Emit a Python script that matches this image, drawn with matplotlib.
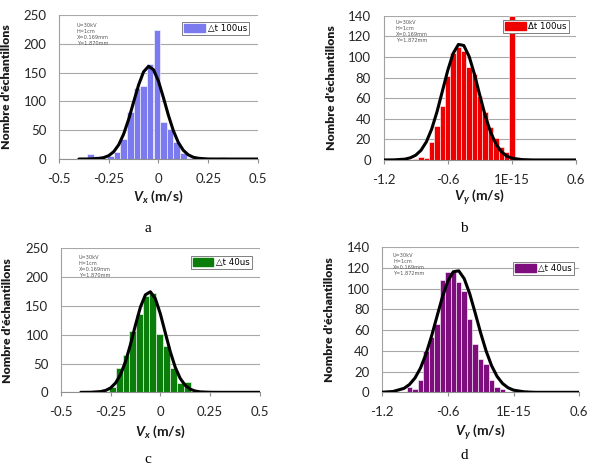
import matplotlib
matplotlib.use("Agg")
import matplotlib.pyplot as plt
from matplotlib.patches import Patch

plt.rcParams['font.family'] = ['Lato', 'DejaVu Sans']
plt.rcParams['mathtext.fontset'] = 'custom'
plt.rcParams['mathtext.it'] = 'Lato:italic:bold'
plt.rcParams['mathtext.rm'] = 'Lato:bold'
plt.rcParams['mathtext.bf'] = 'Lato:bold'

# ---------------- data ----------------
# panel a : Vx, dt 100us
a_centers = [-0.342, -0.308, -0.242, -0.208, -0.175, -0.142, -0.108, -0.075, -0.042, -0.008,
             0.025, 0.058, 0.092, 0.125, 0.158, 0.192, 0.325, 0.358]
a_counts = [8, 6, 6, 12, 34, 81, 124, 126, 164, 224, 64, 52, 29, 10, 1, 5, 3, 2]
a_fit_x = [-0.40, -0.35, -0.30, -0.275, -0.25, -0.225, -0.20, -0.175, -0.15, -0.125, -0.10, -0.075,
           -0.05, -0.025, 0.0, 0.025, 0.05, 0.075, 0.10, 0.125, 0.15, 0.175, 0.20, 0.25, 0.30, 0.40, 0.50]
a_fit_y = [0.0, 0.1, 1.0, 2.5, 5.9, 12.7, 24.7, 43.4, 68.8, 98.9, 128.5, 151.2,
           160.9, 154.9, 134.9, 106.3, 75.8, 48.9, 28.5, 15.1, 7.2, 3.1, 1.2, 0.1, 0.0, 0.0, 0.0]

# panel b : Vy, dt 100us
b_centers = [-0.9, -0.85, -0.8, -0.75, -0.7, -0.65, -0.6, -0.55, -0.5, -0.45, -0.4, -0.35,
             -0.3, -0.25, -0.2, -0.15, -0.1, -0.05, 0.0, 0.05, 0.1, 0.15]
b_counts = [1, 3, 2, 17, 33, 52, 82, 104, 110, 106, 90, 83, 62, 47, 32, 21, 13, 8, 140, 2, 2, 1]
b_fit_x = [-1.2, -1.1, -1.0, -0.95, -0.9, -0.85, -0.8, -0.75, -0.7, -0.65, -0.6, -0.55, -0.5,
           -0.45, -0.4, -0.35, -0.3, -0.25, -0.2, -0.15, -0.1, -0.05, 0.0, 0.1, 0.2, 0.4, 0.6]
b_fit_y = [0.0, 0.1, 0.8, 2.1, 4.6, 9.4, 17.6, 30.1, 47.0, 66.9, 87.0, 103.4, 112.2,
           111.2, 100.6, 83.2, 62.8, 43.3, 27.2, 15.7, 8.2, 3.9, 1.7, 0.3, 0.0, 0.0, 0.0]

# panel c : Vx, dt 40us
c_centers = [-0.240, -0.206, -0.173, -0.139, -0.105, -0.072, -0.038, -0.004, 0.032, 0.067, 0.102, 0.136]
c_counts = [10, 42, 64, 107, 136, 168, 172, 101, 81, 42, 16, 18]
c_fit_x = a_fit_x
c_fit_y = [0.0, 0.1, 1.3, 3.3, 7.7, 16.3, 31.1, 53.6, 83.3, 117.0, 148.2, 169.3,
           174.6, 162.5, 136.5, 103.4, 70.7, 43.6, 24.3, 12.2, 5.5, 2.3, 0.8, 0.1, 0.0, 0.0, 0.0]

# panel d : Vy, dt 40us
d_centers = [-0.95, -0.9, -0.85, -0.8, -0.75, -0.7, -0.65, -0.6, -0.55, -0.5, -0.45, -0.4,
             -0.35, -0.3, -0.25, -0.2, -0.15, -0.1, 0.1, 0.25]
d_counts = [5, 3, 12, 40, 53, 66, 108, 116, 116, 107, 98, 71, 47, 32, 27, 12, 5, 3, 2, 1]
d_fit_x = b_fit_x
d_fit_y = [0.1, 0.8, 3.8, 7.5, 13.7, 23.2, 36.6, 53.6, 72.7, 91.7, 107.3, 116.4, 117.3,
           109.7, 95.2, 76.6, 57.3, 39.8, 25.6, 15.3, 8.5, 4.4, 2.1, 0.4, 0.0, 0.0, 0.0]

vx_ticks = [-0.5, -0.25, 0, 0.25, 0.5]
vx_ticklabels = ['-0.5', '-0.25', '0', '0.25', '0.5']
vy_ticks = [-1.2, -0.6, 0, 0.6]
vy_ticklabels = ['-1.2', '-0.6', '1E-15', '0.6']
vx_yticks = [0, 50, 100, 150, 200, 250]
vy_yticks = [0, 20, 40, 60, 80, 100, 120, 140]

params_a = "U=30kV\nH=1cm\nX=0.169mm\nY=1.870mm"
params_b = "U=30kV\nH=1cm\nX=0.169mm\nY=1.872mm"

# ---------------- figure ----------------
fig = plt.figure(figsize=(5.92, 4.65), dpi=100)

panels = [
    dict(pos=[0.0997, 0.658, 0.336, 0.310], centers=a_centers, counts=a_counts, width=1/30,
         fx=a_fit_x, fy=a_fit_y, color='#7B7BEF', leg='\u25B3t 100us', xl=(-0.5, 0.5), yl=(0, 250),
         xt=vx_ticks, xtl=vx_ticklabels, yt=vx_yticks, xlabel=r'$V_x$ (m/s)', params=params_a,
         ylab=(-0.236, 0.5), xlab=(0.5, -0.262), legpos=(0.955, 0.951), parpos=(0.09, 0.945),
         letter='a', letpos=(148, 228)),
    dict(pos=[0.648, 0.656, 0.325, 0.310], centers=b_centers, counts=b_counts, width=0.05,
         fx=b_fit_x, fy=b_fit_y, color='#EE0000', leg='\u0394t 100us', xl=(-1.2, 0.6), yl=(0, 140),
         xt=vy_ticks, xtl=vy_ticklabels, yt=vy_yticks, xlabel=r'$V_y$ (m/s)', params=params_b,
         ylab=(-0.240, 0.5), xlab=(0.5, -0.256), legpos=(0.964, 0.970), parpos=(0.064, 0.97),
         letter='b', letpos=(464, 228)),
    dict(pos=[0.103, 0.1563, 0.3356, 0.3097], centers=c_centers, counts=c_counts, width=1/30,
         fx=c_fit_x, fy=c_fit_y, color='#0A7D0A', leg='\u25B3t 40us', xl=(-0.5, 0.5), yl=(0, 250),
         xt=vx_ticks, xtl=vx_ticklabels, yt=vx_yticks, xlabel=r'$V_x$ (m/s)', params=params_a,
         ylab=(-0.242, 0.5), xlab=(0.5, -0.276), legpos=(0.961, 0.947), parpos=(0.09, 0.953),
         letter='c', letpos=(148, 459)),
    dict(pos=[0.6453, 0.1563, 0.3333, 0.3118], centers=d_centers, counts=d_counts, width=0.05,
         fx=d_fit_x, fy=d_fit_y, color='#7E0E7E', leg='\u25B3t 40us', xl=(-1.2, 0.6), yl=(0, 140),
         xt=vy_ticks, xtl=vy_ticklabels, yt=vy_yticks, xlabel=r'$V_y$ (m/s)', params=params_b,
         ylab=(-0.240, 0.5), xlab=(0.5, -0.274), legpos=(0.973, 0.899), parpos=(0.056, 0.96),
         letter='d', letpos=(464, 455)),
]

W, H = 592, 465
for p in panels:
    ax = fig.add_axes(p['pos'])
    ax.bar(p['centers'], p['counts'], width=p['width'], color=p['color'],
           edgecolor='white', linewidth=0.4, zorder=2)
    ax.plot(p['fx'], p['fy'], color='black', lw=2.2, zorder=3, solid_capstyle='round')
    ax.set_xlim(*p['xl'])
    ax.set_ylim(*p['yl'])
    ax.set_xticks(p['xt'])
    ax.set_xticklabels(p['xtl'])
    ax.set_yticks(p['yt'])
    ax.yaxis.grid(True, color='#A8A8A8', lw=0.8)
    ax.set_axisbelow(True)
    for s in ['top', 'right']:
        ax.spines[s].set_visible(False)
    ax.spines['left'].set_color('#A0A0A0')
    ax.spines['bottom'].set_color('#909090')
    ax.spines['left'].set_linewidth(0.8)
    ax.spines['bottom'].set_linewidth(0.8)
    ax.tick_params(axis='x', length=3, width=0.8, color='#909090', pad=7,
                   labelsize=9.5, labelcolor='#262626')
    ax.tick_params(axis='y', length=0, pad=9, labelsize=9.5, labelcolor='#262626')
    ax.set_ylabel("Nombre d'échantillons", fontsize=8.8, fontweight='heavy', color='#1a1a1a')
    ax.yaxis.set_label_coords(*p['ylab'])
    ax.set_xlabel(p['xlabel'], fontsize=10, fontweight='bold', color='#1a1a1a')
    ax.xaxis.set_label_coords(*p['xlab'])
    ax.xaxis.label.set_va('center')
    ax.text(p['parpos'][0], p['parpos'][1], p['params'], transform=ax.transAxes,
            fontsize=3.6, va='top', ha='left', color='#555555', linespacing=1.25,
            family=['DejaVu Sans'])
    leg = ax.legend(handles=[Patch(facecolor=p['color'], edgecolor=p['color'])],
                    labels=[p['leg']], loc='upper right', bbox_to_anchor=p['legpos'],
                    frameon=True, fancybox=False, framealpha=1, edgecolor='#808080',
                    borderpad=0.25, handlelength=2.4, handleheight=1.0, handletextpad=0.3,
                    borderaxespad=0, prop={'family': ['DejaVu Sans'], 'size': 6.2})
    leg.get_frame().set_linewidth(0.7)
    fig.text(p['letpos'][0] / W, 1 - p['letpos'][1] / H, p['letter'],
             family=['Liberation Serif', 'DejaVu Serif'], fontsize=11, ha='center', va='center')

fig.savefig('out.png', dpi=100)
